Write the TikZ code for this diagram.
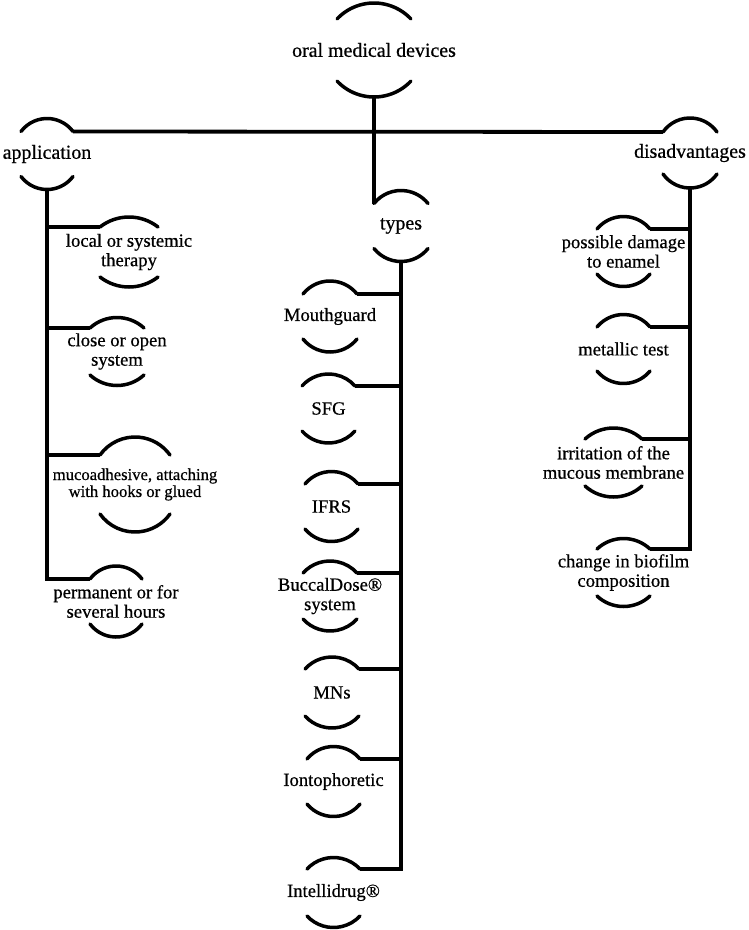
\documentclass[tikz,border=0pt]{standalone}
\usepackage{fontspec}
\setmainfont{Liberation Serif}[FakeBold=0.6]
\tikzset{
  lbl/.style={inner sep=0pt, align=center, font=\fontsize{18.7}{19.5}\selectfont},
  big/.style={font=\fontsize{20}{22}\selectfont},
  small/.style={font=\fontsize{16.7}{17}\selectfont},
  arcline/.style={line width=3.5bp, line cap=round},
  conn/.style={line width=3.8bp},
}
% #1 name, #2 x, #3 y (from top), #4 half gap, #5 half width, #6 arc height, #7 style, #8 text
\newcommand\bub[8]{%
  \node[lbl,#7] (#1) at (#2,-#3) {#8};
  \pgfmathsetmacro\bubr{(#5*#5+#6*#6)/(2*#6)}
  \pgfmathsetmacro\bubt{asin(#5/\bubr)}
  \coordinate (#1-tl) at (#2-#5,-#3+#4);
  \coordinate (#1-tr) at (#2+#5,-#3+#4);
  \coordinate (#1-bl) at (#2-#5,-#3-#4);
  \coordinate (#1-b) at (#2,-#3-#4-#6);
  \draw[arcline] (#1-tl) arc[start angle=90+\bubt, end angle=90-\bubt, radius=\bubr];
  \draw[arcline] (#1-bl) arc[start angle=270-\bubt, end angle=270+\bubt, radius=\bubr];
}
\begin{document}
\begin{tikzpicture}[x=1bp,y=1bp]
\useasboundingbox (0,0) rectangle (749,-930);
% top level
\bub{oral}{374}{50}{31}{37}{16}{big}{oral medical devices}
\bub{app}{47}{154}{22.5}{26}{13}{big}{application}
\bub{dis}{690}{153}{21}{27}{14}{big}{disadvantages}
\bub{types}{401}{226}{22.5}{27}{13}{big}{types}
% application children
\bub{loc}{129}{252}{25}{29}{10}{}{local or systemic\\therapy}
\bub{clo}{117}{351.5}{23.5}{27}{10.5}{}{close or open\\system}
\bub{muc}{135}{484.5}{29.5}{35}{18}{small}{mucoadhesive, attaching\\with hooks or glued}
\bub{per}{116}{601.5}{22.5}{26}{13}{}{permanent or for\\several hours}
% types children
\bub{mou}{330}{316.5}{22.5}{27}{13}{}{Mouthguard}
\bub{sfg}{328.5}{408.5}{22.5}{26.5}{12}{}{SFG}
\bub{ifr}{331.5}{506.5}{22.5}{26.5}{12.5}{}{IFRS}
\bub{buc}{330}{596}{23}{27}{12}{}{BuccalDose®\\system}
\bub{mns}{332}{692.5}{23.5}{27}{12}{}{MNs}
\bub{ion}{333.5}{781.5}{22.5}{26.5}{12.5}{}{Iontophoretic}
\bub{int}{333.5}{892.5}{23.5}{26.5}{11.5}{}{Intellidrug®}
% disadvantages children
\bub{pdm}{623.5}{251.5}{22.5}{26.5}{12.5}{}{possible damage\\to enamel}
\bub{met}{623.5}{349}{22}{26.5}{12.5}{}{metallic test}
\bub{irr}{613.5}{462.5}{23.5}{28.5}{11}{}{irritation of the\\mucous membrane}
\bub{chg}{623.5}{572.5}{23.5}{26.5}{10.5}{}{change in biofilm\\composition}
% connectors
\draw[conn] (app-tr) -- (dis-tl);
\draw[conn] (oral-b) -- (types-tl);
\foreach \c in {loc,clo,muc,per} \draw[conn] (app-b) |- (\c-tl);
\foreach \c in {mou,sfg,ifr,buc,mns,ion,int} \draw[conn] (types-b) |- (\c-tr);
\foreach \c in {pdm,met,irr,chg} \draw[conn] (dis-b) |- (\c-tr);
\end{tikzpicture}
\end{document}
